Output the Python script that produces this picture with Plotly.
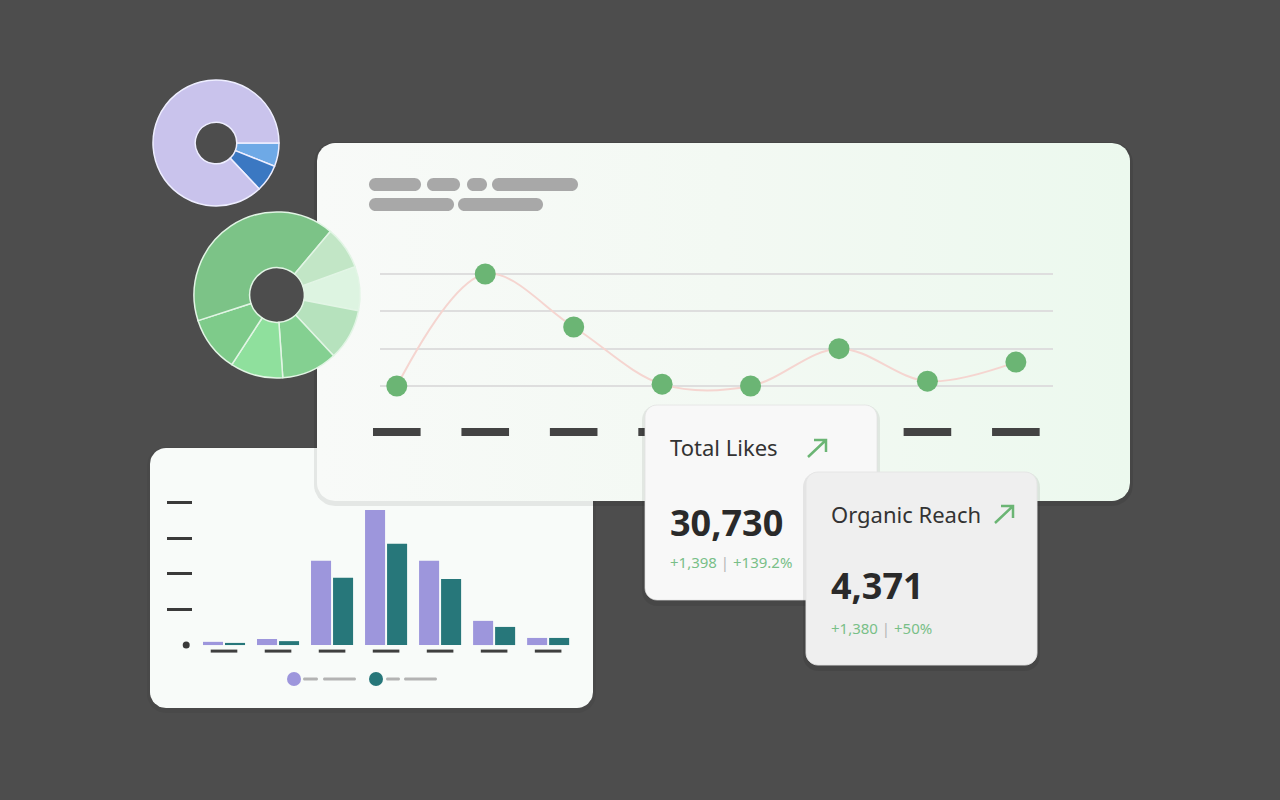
import math
import plotly.graph_objects as go

# ---------------- data ----------------
line_categories = ["c1", "c2", "c3", "c4", "c5", "c6", "c7", "c8"]
line_values = [0.0, 3.0, 1.58, 0.05, 0.0, 1.0, 0.13, 0.64]

bar_categories = ["g1", "g2", "g3", "g4", "g5", "g6", "g7"]
series_a = [0.09, 0.17, 2.37, 3.80, 2.37, 0.68, 0.20]
series_b = [0.06, 0.11, 1.89, 2.85, 1.86, 0.51, 0.20]
bar_ticks = [1, 2, 3, 4]

purple_labels = ["Segment B", "Segment C", "Segment A"]
purple_values = [6, 7, 87]
purple_colors = ["#6ea9e6", "#3b78c2", "#c9c3ec"]

green_labels = ["s1", "s2", "s3", "s4", "s5", "s6", "s7"]
green_values = [31, 36, 39, 37, 39, 148, 30]
green_colors = ["#ddf4e1", "#b6e2bd", "#84d091", "#8fe09d", "#7ecb8a", "#7cc387", "#c2e6c6"]

kpi_titles = ["Total Likes", "Organic Reach"]
kpi_values = [30730, 4371]
kpi_deltas = [1398, 1380]
kpi_pcts = [139.2, 50]

# ---------------- helpers ----------------
W, H = 1280, 800


def X(px):
    return px / W


def Y(py):
    return 1 - py / H


def P(x, y):
    return f"{X(x):.5f},{Y(y):.5f}"


def rrect(x0, y0, x1, y1, r):
    k = 0.5523 * r
    return (
        f"M{P(x0 + r, y0)} L{P(x1 - r, y0)} "
        f"C{P(x1 - r + k, y0)} {P(x1, y0 + r - k)} {P(x1, y0 + r)} "
        f"L{P(x1, y1 - r)} "
        f"C{P(x1, y1 - r + k)} {P(x1 - r + k, y1)} {P(x1 - r, y1)} "
        f"L{P(x0 + r, y1)} "
        f"C{P(x0 + r - k, y1)} {P(x0, y1 - r + k)} {P(x0, y1 - r)} "
        f"L{P(x0, y0 + r)} "
        f"C{P(x0, y0 + r - k)} {P(x0 + r - k, y0)} {P(x0 + r, y0)} Z"
    )


def card(x0, y0, x1, y1, r, fill, layer="above", line="rgba(0,0,0,0)"):
    return dict(type="path", xref="paper", yref="paper", path=rrect(x0, y0, x1, y1, r),
                fillcolor=fill, line=dict(color=line, width=1), layer=layer)


def shadow(x0, y0, x1, y1, r, layer="above", alpha=0.06, grow=3, dy=3):
    return dict(type="path", xref="paper", yref="paper",
                path=rrect(x0 - grow, y0 - grow + dy, x1 + grow, y1 + grow + dy, r + grow),
                fillcolor=f"rgba(0,0,0,{alpha})", line=dict(width=0), layer=layer)


def outline(x0, y0, x1, y1, r, n=10):
    """Polyline outline of a rounded rectangle in page pixels (for the decoration canvas)."""
    xs, ys = [], []
    corners = [(x1 - r, y0 + r, -90, 0), (x1 - r, y1 - r, 0, 90), (x0 + r, y1 - r, 90, 180), (x0 + r, y0 + r, 180, 270)]
    for cx, cy, a0, a1 in corners:
        for j in range(n + 1):
            a = math.radians(a0 + (a1 - a0) * j / n)
            xs.append(cx + r * math.cos(a))
            ys.append(cy + r * math.sin(a))
    xs.append(xs[0])
    ys.append(ys[0])
    return xs, ys


fig = go.Figure()

# ---------------- decoration canvas (cards behind charts) ----------------
for (x0, y0, x1, y1, r, alpha) in [(147, 447, 596, 713, 19, 0.05), (314, 142, 1133, 506, 21, 0.08)]:
    sx, sy = outline(x0, y0, x1, y1, r)
    fig.add_trace(go.Scatter(x=sx, y=sy, mode="lines", fill="toself", fillcolor=f"rgba(0,0,0,{alpha})",
                             line=dict(width=0), xaxis="x", yaxis="y", hoverinfo="skip", showlegend=False))
    if x0 == 147:
        bx0, by0, bx1, by1 = 150, 448, 593, 708
        cx, cy = outline(bx0, by0, bx1, by1, 16)
        fig.add_trace(go.Scatter(x=cx, y=cy, mode="lines", fill="toself", fillcolor="#f8fbf9",
                                 line=dict(width=0), xaxis="x", yaxis="y", hoverinfo="skip", showlegend=False))
cx, cy = outline(317, 143, 1130, 501, 18)
fig.add_trace(go.Scatter(x=cx, y=cy, mode="lines", fill="toself", line=dict(width=0),
                         fillgradient=dict(type="horizontal",
                                           colorscale=[[0, "#f8faf8"], [0.5, "#f3f9f3"], [1, "#ecf9ee"]]),
                         xaxis="x", yaxis="y", hoverinfo="skip", showlegend=False))

# ---------------- line chart ----------------
lx = list(range(len(line_categories)))
fig.add_trace(go.Scatter(
    x=lx, y=line_values, mode="lines+markers", xaxis="x2", yaxis="y2", cliponaxis=False,
    line=dict(color="#f5d5d0", width=2, shape="spline", smoothing=1.0),
    marker=dict(size=21, color="#6bb574", line=dict(width=0)),
    hoverinfo="skip", showlegend=False))
fig.add_trace(go.Scatter(
    x=lx, y=[-1.23] * len(lx), mode="markers", xaxis="x2", yaxis="y2", cliponaxis=False,
    marker=dict(symbol="line-ew", size=34, line=dict(color="#434343", width=8)),
    hoverinfo="skip", showlegend=False))

# ---------------- bar chart ----------------
bx = list(range(len(bar_categories)))
fig.add_trace(go.Bar(x=bx, y=series_a, xaxis="x3", yaxis="y3", marker=dict(color="#9d96dc", line=dict(width=0)),
                     hoverinfo="skip", showlegend=False))
fig.add_trace(go.Bar(x=bx, y=series_b, xaxis="x3", yaxis="y3", marker=dict(color="#27777a", line=dict(width=0)),
                     hoverinfo="skip", showlegend=False))
fig.add_trace(go.Scatter(
    x=bx, y=[-0.17] * len(bx), mode="markers", xaxis="x3", yaxis="y3", cliponaxis=False,
    marker=dict(symbol="line-ew", size=19, line=dict(color="#3f3f3f", width=3)),
    hoverinfo="skip", showlegend=False))
fig.add_trace(go.Scatter(
    x=[-0.70], y=[0], mode="markers", xaxis="x3", yaxis="y3", cliponaxis=False,
    marker=dict(size=7, color="#3a3a3a"), hoverinfo="skip", showlegend=False))

# ---------------- donuts ----------------
fig.add_trace(go.Pie(
    labels=purple_labels, values=purple_values, hole=0.33, sort=False, direction="clockwise",
    rotation=90, textinfo="none", hoverinfo="skip", showlegend=False,
    marker=dict(colors=purple_colors, line=dict(color="#eeeeff", width=1.5)),
    domain=dict(x=[X(153), X(279)], y=[Y(206), Y(80)])))
fig.add_trace(go.Pie(
    labels=green_labels, values=green_values, hole=0.33, sort=False, direction="clockwise",
    rotation=70, textinfo="none", hoverinfo="skip", showlegend=False,
    marker=dict(colors=green_colors, line=dict(color="#e2f5e5", width=1.5)),
    domain=dict(x=[X(194), X(360)], y=[Y(378), Y(212)])))

# ---------------- shapes ----------------
shapes = []
# placeholder pills
for (a, b, c, d) in [(369, 178, 421, 191), (427, 178, 460, 191), (467, 178, 487, 191), (492, 178, 578, 191),
                     (369, 198, 454, 211), (458, 198, 543, 211)]:
    shapes.append(card(a, b, c, d, (d - b) / 2, "#a8a8a8"))
# bar legend
for (ccx, col, segs) in [(294, "#9d96dc", [(303, 318), (323, 356)]), (376, "#27777a", [(386, 400), (404, 437)])]:
    shapes.append(dict(type="circle", xref="paper", yref="paper", x0=X(ccx - 7), x1=X(ccx + 7),
                       y0=Y(679 + 7), y1=Y(679 - 7), fillcolor=col, line=dict(width=0), layer="above"))
    for (a, b) in segs:
        shapes.append(card(a, 677.5, b, 680.5, 1.5, "#b3b3b3"))
# KPI cards
shapes.append(shadow(645, 405, 877, 600, 12, alpha=0.07))
shapes.append(card(645, 405, 877, 600, 12, "#f8f8f8", line="rgba(225,225,225,0.7)"))
shapes.append(shadow(806, 472, 1037, 665, 12, alpha=0.08))
shapes.append(card(806, 472, 1037, 665, 12, "#efefef", line="rgba(228,228,228,0.9)"))
# arrows
for (tx, ty, hx, hy) in [(808, 457, 826, 440), (995, 523, 1013, 506)]:
    shapes.append(dict(type="path", xref="paper", yref="paper", layer="above",
                       path=f"M{P(tx, ty)} L{P(hx, hy)} M{P(hx - 12, hy)} L{P(hx, hy)} L{P(hx, hy + 12)}",
                       line=dict(color="#6bb574", width=2.5)))

# ---------------- annotations ----------------
FONT = "Noto Sans"
ann = []
kpi_pos = [(668, 447, 522, 562), (829, 514, 585, 628)]
for i, (x, yt, yv, yd) in enumerate(kpi_pos):
    ann.append(dict(xref="paper", yref="paper", x=X(x), y=Y(yt), xanchor="left", yanchor="middle",
                    text=kpi_titles[i], showarrow=False, font=dict(family=FONT, size=22, color="#333333")))
    ann.append(dict(xref="paper", yref="paper", x=X(x), y=Y(yv), xanchor="left", yanchor="middle",
                    text=f"<b>{kpi_values[i]:,}</b>", showarrow=False,
                    font=dict(family=FONT, size=36, color="#2a2a2a")))
    ann.append(dict(xref="paper", yref="paper", x=X(x), y=Y(yd), xanchor="left", yanchor="middle",
                    text=f"+{kpi_deltas[i]:,} <span style='color:#b5b5b5'>|</span> +{kpi_pcts[i]:g}%",
                    showarrow=False, font=dict(family=FONT, size=15, color="#79bf88")))

fig.update_layout(
    width=W, height=H, autosize=False,
    margin=dict(l=0, r=0, t=0, b=0, pad=0),
    paper_bgcolor="#4d4d4d", plot_bgcolor="rgba(0,0,0,0)",
    showlegend=False, barmode="group", bargap=0.185, bargroupgap=0.09,
    # decoration canvas in page pixels
    xaxis=dict(domain=[0, 1], range=[0, W], visible=False, fixedrange=True),
    yaxis=dict(domain=[0, 1], range=[H, 0], visible=False, fixedrange=True),
    # line chart
    xaxis2=dict(domain=[X(380), X(1053)], range=[-0.19, 7.42], visible=False, fixedrange=True, anchor="y2"),
    yaxis2=dict(domain=[Y(445), Y(260)], range=[-1.58, 3.375], tickvals=[0, 1, 2, 3], anchor="x2",
                showticklabels=False, ticks="", showgrid=True, gridcolor="#dedede", gridwidth=1.5,
                zeroline=False, showline=False, fixedrange=True),
    # bar chart
    xaxis3=dict(domain=[X(170), X(580)], range=[-1.0, 6.59], visible=False, fixedrange=True, anchor="y3"),
    yaxis3=dict(domain=[Y(655), Y(500)], range=[-0.28, 4.08], tickvals=bar_ticks, anchor="free",
                position=X(192), showticklabels=False, ticks="outside", ticklen=25, tickwidth=3,
                tickcolor="#3a3a3a", showgrid=False, zeroline=False, showline=False, fixedrange=True),
    shapes=shapes, annotations=ann,
)

fig.write_html("out.html", config={"displayModeBar": False})
